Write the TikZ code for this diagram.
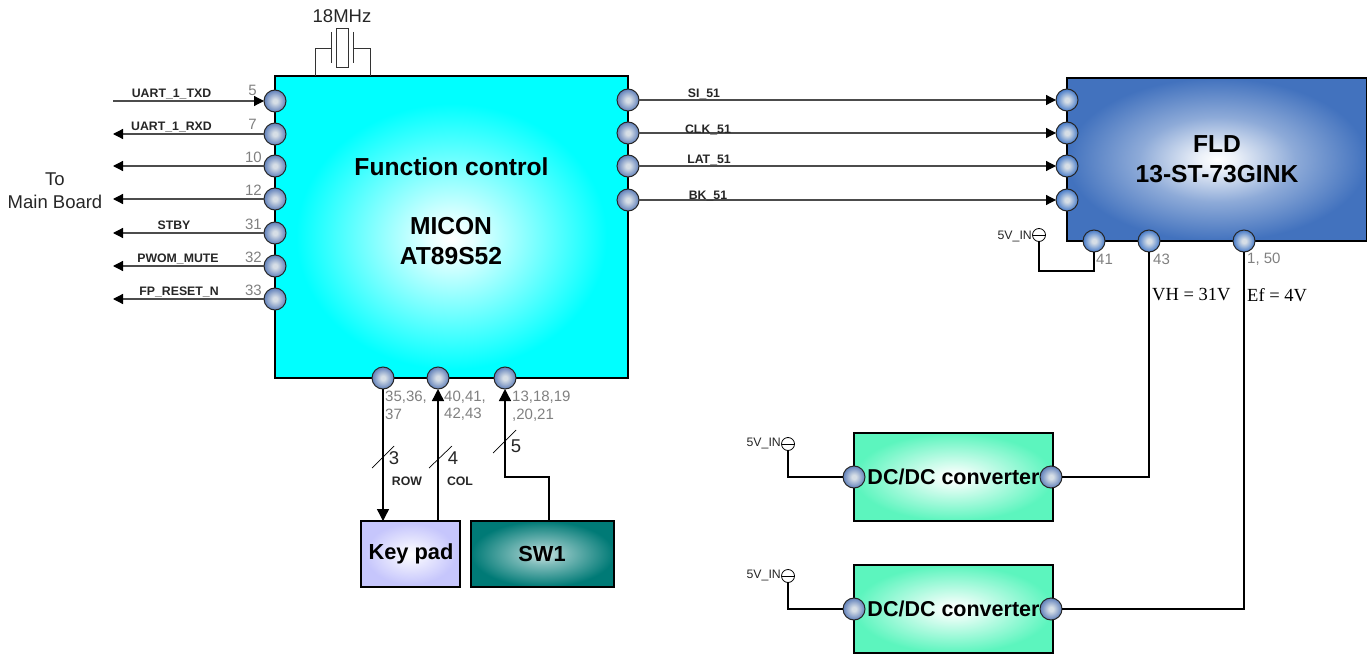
\documentclass[tikz,border=0pt]{standalone}
\usepackage{fontspec}
\setmainfont{Liberation Sans}
\newfontfamily\serifv{Liberation Serif}
\usetikzlibrary{arrows.meta}
\definecolor{mcyan}{RGB}{0,255,255}
\definecolor{fblue}{RGB}{66,114,190}
\definecolor{kpad}{RGB}{198,198,252}
\definecolor{swteal}{RGB}{0,122,118}
\definecolor{dcgreen}{RGB}{92,245,190}
\definecolor{ballout}{RGB}{96,128,186}
\definecolor{ballin}{RGB}{214,222,230}
\definecolor{ballbright}{RGB}{70,122,200}
\definecolor{numgray}{RGB}{128,128,128}
\pgfdeclareradialshading{mainshade}{\pgfpoint{0bp}{-2bp}}{color(0bp)=(white); color(3bp)=(white!90!mcyan); color(22bp)=(mcyan); color(100bp)=(mcyan)}
\pgfdeclareradialshading{fldshade}{\pgfpointorigin}{color(0bp)=(white); color(3bp)=(white!90!fblue); color(13bp)=(white!40!fblue); color(25bp)=(fblue); color(100bp)=(fblue)}
\pgfdeclareradialshading{kpadshade}{\pgfpointorigin}{color(0bp)=(white); color(23bp)=(kpad); color(100bp)=(kpad)}
\pgfdeclareradialshading{swshade}{\pgfpointorigin}{color(0bp)=(white!80!swteal); color(8bp)=(white!50!swteal); color(25bp)=(swteal); color(100bp)=(swteal)}
\pgfdeclareradialshading{dcshade}{\pgfpointorigin}{color(0bp)=(white); color(3bp)=(white!92!dcgreen); color(25bp)=(dcgreen); color(100bp)=(dcgreen)}
\pgfdeclareradialshading{ballshade}{\pgfpointorigin}{color(0bp)=(ballin); color(5bp)=(ballin); color(25bp)=(ballout); color(100bp)=(ballout)}
\pgfdeclareradialshading{ballbrightshade}{\pgfpointorigin}{color(0bp)=(ballin); color(5bp)=(ballin); color(25bp)=(ballbright); color(100bp)=(ballbright)}
\tikzset{
  x=1pt,y=-1pt,
  blockbox/.style={draw=black,line width=1.5pt,inner sep=0pt,outer sep=0pt,shade},
  port/.style={circle,draw=black!85,line width=1pt,inner sep=0pt,outer sep=0pt,minimum size=22pt,shade,shading=ballshade},
  brightport/.style={port,shading=ballbrightshade},
  wire/.style={draw=black,line width=1.4pt},
  sigarrow/.style={draw=black!70,line width=1.2pt,-{Triangle[length=10pt,width=10pt,color=black]}},
  bigarrow/.style={wire,-{Triangle[length=12pt,width=12pt]}},
  slash/.style={draw=black,line width=.7pt},
  siglabel/.style={font=\bfseries\fontsize{12.3}{14}\selectfont,inner sep=0pt,text=black!85},
  numlabel/.style={font=\fontsize{15}{17}\selectfont,text=numgray,inner sep=0pt},
  blocktext/.style={font=\bfseries\fontsize{24.6}{28}\selectfont,inner sep=0pt},
  supply/.style={circle,draw=black,line width=.8pt,minimum size=13pt,inner sep=0pt,outer sep=0pt,fill=white,path picture={\draw[line width=.8pt] (path picture bounding box.west) -- (path picture bounding box.east);}},
  supplytext/.style={font=\fontsize{12.3}{14}\selectfont,inner sep=0pt,anchor=east,text=black!85},
  plaintext/.style={font=\fontsize{18.5}{21}\selectfont,inner sep=0pt,text=black!85},
  volt/.style={font=\serifv\fontsize{18.5}{21}\selectfont,inner sep=0pt,anchor=west}
}
\begin{document}
\begin{tikzpicture}
\useasboundingbox (0,0) rectangle (1367,655);
% blocks
\node[blockbox,shading=mainshade,minimum width=353pt,minimum height=302pt] (main) at (451.5,227) {};
\node[blockbox,shading=fldshade,minimum width=300pt,minimum height=163pt] (fld) at (1217,159.5) {};
\node[blockbox,shading=kpadshade,minimum width=99pt,minimum height=66pt] (kp) at (410.5,554) {};
\node[blockbox,shading=swshade,minimum width=143pt,minimum height=66pt] (sw) at (542.5,554) {};
\node[blockbox,shading=dcshade,minimum width=199pt,minimum height=88pt] (dca) at (953.5,477) {};
\node[blockbox,shading=dcshade,minimum width=199pt,minimum height=88pt] (dcb) at (953.5,609) {};
% ports
\foreach \n/\x/\y in {pa/275/101,pb/275/134,pc/275/166,pd/275/199,pe/275/233,pf/275/266,pg/275/299,
  ra/628/100,rb/628/133,rc/628/166,rd/628/200,
  ba/383/378,bb/438/378,bc/505/378,
  dai/854/477,dao/1051/477,dbi/854/609,dbo/1051/609}
  {\node[port] (\n) at (\x,\y) {};}
\foreach \n/\x/\y in {fa/1067/100,fb/1067/133,fc/1067/166,fd/1067/200,
  ga/1094/241,gb/1149/241,gc/1244/241}
  {\node[brightport] (\n) at (\x,\y) {};}
% free ends on the left
\foreach \n/\y in {la/101,lb/134,lc/166,ld/199,le/233,lf/266,lg/299}
  {\coordinate (\n) at (113,\y);}
\draw[sigarrow] (la) -- (pa);
\foreach \a/\b in {pb/lb,pc/lc,pd/ld,pe/le,pf/lf,pg/lg}
  {\draw[sigarrow] (\a) -- (\b);}
\foreach \a/\b in {ra/fa,rb/fb,rc/fc,rd/fd}
  {\draw[sigarrow] (\a) -- (\b);}
% bottom connectors
\coordinate (kptop) at (383,521);
\coordinate (kpcol) at (438,521);
\coordinate (swtop) at (549,521);
\coordinate (swbend) at (549,477);
\coordinate (swbendb) at (505,477);
\draw[bigarrow] (ba) -- (kptop);
\draw[bigarrow] (kpcol) -- (bb);
\draw[bigarrow] (swtop) -- (swbend) -- (swbendb) -- (bc);
\draw[slash] (372,468) -- (394,446);
\draw[slash] (429,468) -- (452,446);
\draw[slash] (493,453) -- (516,430);
% crystal
\coordinate (xtall) at (315,76);
\coordinate (xtalr) at (370,76);
\draw[line width=.8pt,draw=black!80] (xtall) -- (315,48) -- (331,48) (331,32) -- (331,63);
\draw[line width=.8pt,draw=black!80] (xtalr) -- (370,48) -- (353,48) (353,32) -- (353,63);
\draw[line width=.8pt,draw=black!80] (336,28) rectangle (348,67);
\node[plaintext] (xtaltext) at (342,16) {18MHz};
% supplies
\node[supply] (sa) at (1039,235) {};
\node[supply] (sb) at (788,444) {};
\node[supply] (sc) at (788,576) {};
\node[supplytext] (sat) at (1032,236) {5V\_IN};
\node[supplytext] (sbt) at (781,443) {5V\_IN};
\node[supplytext] (sct) at (781,575) {5V\_IN};
\coordinate (gabend) at (1094,271);
\coordinate (sabend) at (1039,271);
\draw[wire] (sa) -- (sabend) -- (gabend) -- (ga);
\draw[wire] (sb) |- (dai);
\draw[wire] (sc) |- (dbi);
\draw[wire] (gb) |- (dao);
\draw[wire] (gc) |- (dbo);
% signal labels
\node[siglabel] (t1) at (171.5,94) {UART\_1\_TXD};
\node[siglabel] (t2) at (171.5,127) {UART\_1\_RXD};
\node[siglabel] (t3) at (174,225.5) {STBY};
\node[siglabel] (t4) at (178,259) {PWOM\_MUTE};
\node[siglabel] (t5) at (179,292) {FP\_RESET\_N};
\node[siglabel] (t6) at (704,94) {SI\_51};
\node[siglabel] (t7) at (708,129.5) {CLK\_51};
\node[siglabel] (t8) at (709,160) {LAT\_51};
\node[siglabel] (t9) at (708,196) {BK\_51};
\node[siglabel] (t10) at (407,481) {ROW};
\node[siglabel] (t11) at (460,481) {COL};
% pin numbers
\foreach \n/\x/\y/\t in {na/257/90/5,nb/257/124/7,nc/262/157/10,nd/262/190/12,ne/262/224/31,nf/262/257/32,ng/262/290/33}
  {\node[numlabel,anchor=east] (\n) at (\x,\y) {\t};}
\node[numlabel,anchor=west] (n1) at (385,397) {35,36,};
\node[numlabel,anchor=west] (n2) at (385,414) {37};
\node[numlabel,anchor=west] (n3) at (444,397) {40,41,};
\node[numlabel,anchor=west] (n4) at (444,414) {42,43};
\node[numlabel,anchor=west] (n5) at (512,397) {13,18,19};
\node[numlabel,anchor=west] (n6) at (512,415) {,20,21};
\node[numlabel,anchor=west] (n7) at (1096,259) {41};
\node[numlabel,anchor=west] (n8) at (1153,259) {43};
\node[numlabel,anchor=west] (n9) at (1247,259) {1, 50};
% bus widths
\node[plaintext] (w3) at (394,458) {3};
\node[plaintext] (w4) at (453,458) {4};
\node[plaintext] (w5) at (516,446) {5};
% block texts
\node[blocktext] (m1) at (451.5,167) {Function control};
\node[blocktext] (m2) at (451,226) {MICON};
\node[blocktext] (m3) at (451,256) {AT89S52};
\node[blocktext] (f1) at (1217,144) {FLD};
\node[blocktext] (f2) at (1217,174) {13-ST-73GINK};
\node[blocktext,font=\bfseries\fontsize{21.8}{26}\selectfont] (kt) at (411,554) {Key pad};
\node[blocktext,font=\bfseries\fontsize{21.8}{26}\selectfont] (st) at (542,554) {SW1};
\node[blocktext,font=\bfseries\fontsize{21.5}{26}\selectfont] (d1) at (953.5,477) {DC/DC converter};
\node[blocktext,font=\bfseries\fontsize{21.5}{26}\selectfont] (d2) at (953.5,609) {DC/DC converter};
% left and voltage text
\node[plaintext] (to1) at (55,179) {To};
\node[plaintext] (to2) at (55,202) {Main Board};
\node[volt] (v1) at (1152,295) {VH = 31V};
\node[volt] (v2) at (1247,295) {Ef = 4V};
\end{tikzpicture}
\end{document}
